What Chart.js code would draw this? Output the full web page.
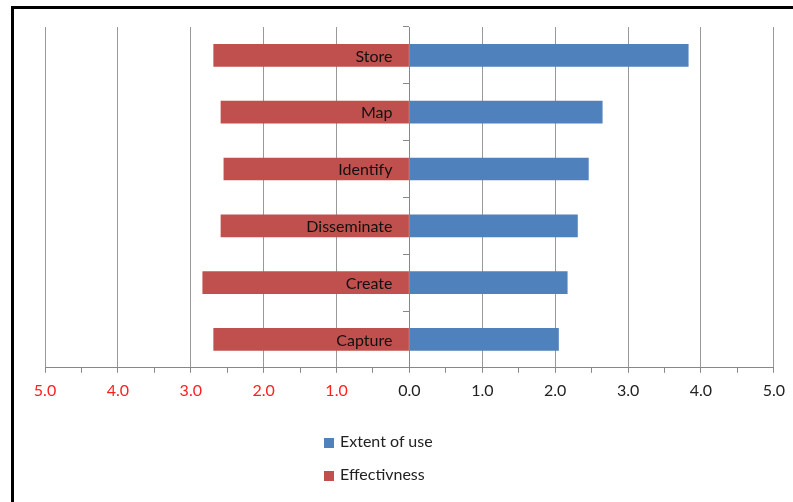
<!DOCTYPE html>
<html>
<head>
<meta charset="utf-8">
<script src="https://cdn.jsdelivr.net/npm/chart.js@4.4.0/dist/chart.umd.min.js"></script>
<style>
	body { margin: 0; background: #fff; }
	#wrap { position: relative; width: 793px; height: 502px; overflow: hidden; }
	#frame { position: absolute; left: 11px; top: 6px; width: 800px; height: 520px;
		border-top: 3px solid #000; border-left: 3px solid #000; }
	#chart { position: absolute; left: 0; top: 0; }
	#legend { position: absolute; left: 324px; top: 430px; font-family: Lato, sans-serif;
		font-size: 16px; color: #222; }
	.item { height: 33px; line-height: 22px; }
	.box { display: inline-block; width: 10px; height: 10px; margin-right: 6px; vertical-align: -1px; }
</style>
</head>
<body>
<div id="wrap">
	<div id="frame"></div>
	<canvas id="chart" width="793" height="502"></canvas>
	<div id="legend"></div>
</div>
<script>
// categories, top to bottom
const categories = ['Store', 'Map', 'Identify', 'Disseminate', 'Create', 'Capture'];

// series values
const extentOfUse = [3.83, 2.65, 2.46, 2.31, 2.17, 2.05];
const effectiveness = [2.69, 2.59, 2.55, 2.59, 2.84, 2.69];

// x axis range
const xMin = -5;
const xMax = 5;

const blue = '#4F81BD';
const red = '#C0504D';
const fontName = 'Lato, sans-serif';

// effectiveness is drawn to the left of zero
const effLeft = effectiveness.map((v) => -v);

// category names sit just left of the zero line, over the red bars
const categoryLabels = {
	id: 'categoryLabels',
	afterDatasetsDraw(chart) {
		const { ctx, scales } = chart;
		const x0 = scales.x.getPixelForValue(0);
		ctx.save();
		ctx.font = '16px ' + fontName;
		ctx.fillStyle = '#111';
		ctx.textAlign = 'right';
		ctx.textBaseline = 'middle';
		chart.data.labels.forEach((lab, i) => {
			ctx.fillText(lab, x0 - 17, scales.y.getPixelForValue(i) + 1);
		});
		ctx.restore();
	}
};

const chart = new Chart(document.getElementById('chart'), {
	type: 'bar',
	data: {
		labels: categories,
		datasets: [
			{ label: 'Extent of use', data: extentOfUse, backgroundColor: blue },
			{ label: 'Effectivness', data: effLeft, backgroundColor: red }
		]
	},
	options: {
		indexAxis: 'y',
		responsive: false,
		animation: false,
		categoryPercentage: 1.0,
		barPercentage: 0.4,
		layout: { padding: { left: 45, right: 19, top: 27, bottom: 94 } },
		plugins: {
			legend: { display: false },
			tooltip: { enabled: false }
		},
		scales: {
			x: {
				stacked: true,
				min: xMin,
				max: xMax,
				ticks: {
					stepSize: 0.5,
					autoSkip: false,
					maxRotation: 0,
					padding: 8,
					font: { family: fontName, size: 16 },
					color: (ctx) => (ctx.tick.value < 0 ? '#FF2020' : '#222'),
					callback: (v) => (Number.isInteger(v) ? Math.abs(v).toFixed(1) : '')
				},
				grid: {
					color: (ctx) => (Number.isInteger(ctx.tick.value) ? '#999' : 'rgba(0,0,0,0)'),
					tickColor: '#888',
					tickLength: 5
				},
				border: { display: true, color: '#888' }
			},
			y: {
				stacked: true,
				position: { x: 0 },
				ticks: { display: false },
				grid: {
					offset: true,
					drawOnChartArea: false,
					tickLength: 6,
					color: '#888'
				},
				border: { display: true, color: '#888' }
			}
		}
	},
	plugins: [categoryLabels]
});

// legend in a column under the chart
const legendDiv = document.getElementById('legend');
chart.data.datasets.forEach((ds) => {
	const row = document.createElement('div');
	row.className = 'item';
	const sw = document.createElement('span');
	sw.className = 'box';
	sw.style.background = ds.backgroundColor;
	row.appendChild(sw);
	row.appendChild(document.createTextNode(ds.label));
	legendDiv.appendChild(row);
});
</script>
</body>
</html>
